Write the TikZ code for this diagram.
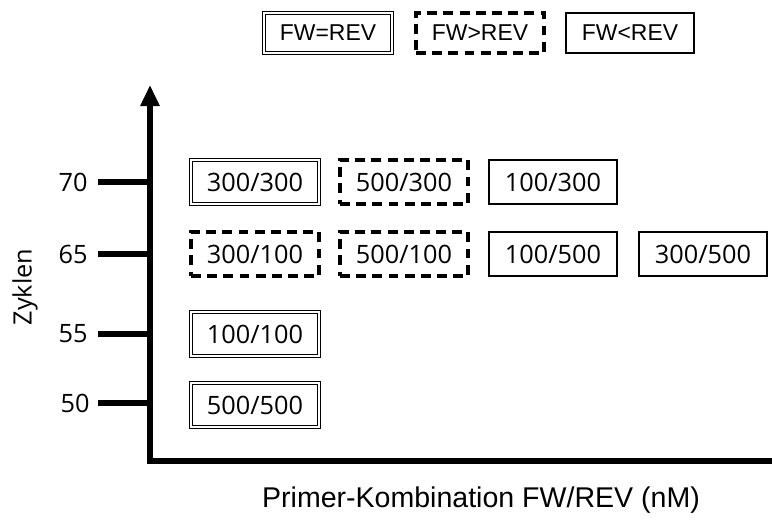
\documentclass[tikz,border=0pt]{standalone}
\usepackage{fontspec}
\usetikzlibrary{arrows.meta,positioning}
\newfontfamily\zahlfont{Open Sans}
\newfontfamily\legfont{Liberation Sans}
\tikzset{
  achse/.style={black,line width=4.3pt},
  strich/.style={black,line width=3.8pt},
  wert/.style={minimum width=32mm,minimum height=11mm,inner sep=0pt,
    font=\zahlfont\fontsize{18}{21}\selectfont},
  legbox/.style={minimum width=32mm,minimum height=10mm,inner sep=0pt,
    font=\legfont\fontsize{16.3}{19}\selectfont},
  gleich/.style={draw,double,double distance=1.3pt,line width=1.1pt},
  groesser/.style={draw,line width=2.2pt,dash pattern=on 7pt off 4.5pt},
  kleiner/.style={draw,line width=2.1pt},
  zahl/.style={font=\zahlfont\fontsize{18}{21}\selectfont},
}
\begin{document}
\begin{tikzpicture}[x=0.25mm,y=-0.25mm]
  \useasboundingbox (0,0) rectangle (772,521);
  % Legende
  \node[legbox,gleich] (lgleich) at (328,33) {FW=REV};
  \node[legbox,groesser] (lgroesser) at (480,33) {FW>REV};
  \node[legbox,kleiner] (lkleiner) at (630,33) {FW<REV};
  % Achsen
  \coordinate (ursprung) at (150,461);
  \coordinate (yspitze) at (150,85);
  \coordinate (xende) at (772,461);
  \draw[achse,-{Triangle[length=15pt,width=13pt]}] ([yshift=-2pt]ursprung) -- (yspitze);
  \draw[achse] ([xshift=-2pt]ursprung) -- (xende);
  \node[zahl,rotate=90] (ylab) at (25,287) {Zyklen};
  \node[font=\legfont\fontsize{20.3}{23}\selectfont] (xlab) at (481,500) {Primer-Kombination FW/REV (nM)};
  % Zyklen-Marken
  \node[zahl] (z70) at (73,182) {70};
  \node[zahl] (z65) at (73,254) {65};
  \node[zahl] (z55) at (73,334) {55};
  \node[zahl] (z50) at (75,403) {50};
  \coordinate (t70) at (98,182);
  \coordinate (t65) at (98,254);
  \coordinate (t55) at (98,334);
  \coordinate (t50) at (98,403);
  \draw[strich] (t70) -- (t70 -| ursprung);
  \draw[strich] (t65) -- (t65 -| ursprung);
  \draw[strich] (t55) -- (t55 -| ursprung);
  \draw[strich] (t50) -- (t50 -| ursprung);
  % Kombinationen
  \node[wert,gleich] (a70) at (255,182) {300/300};
  \node[wert,groesser] (b70) at (404,182) {500/300};
  \node[wert,kleiner] (c70) at (553,182) {100/300};
  \node[wert,groesser] (a65) at (255,254) {300/100};
  \node[wert,groesser] (b65) at (404,254) {500/100};
  \node[wert,kleiner] (c65) at (553,254) {100/500};
  \node[wert,kleiner] (d65) at (703,254) {300/500};
  \node[wert,gleich] (a55) at (255,334) {100/100};
  \node[wert,gleich] (a50) at (255,405) {500/500};
\end{tikzpicture}
\end{document}
